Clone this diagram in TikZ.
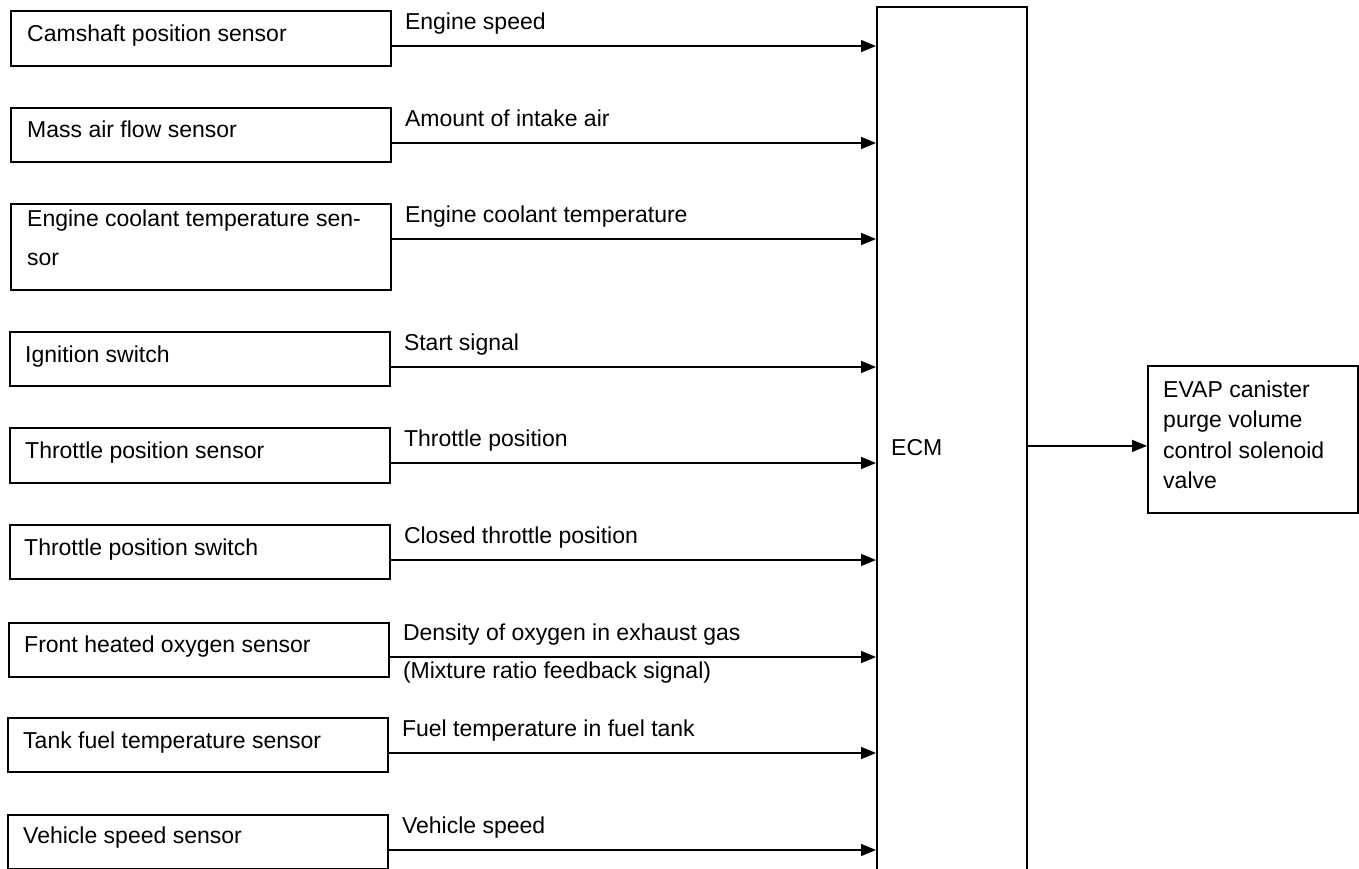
\documentclass[tikz,border=0pt]{standalone}
\usepackage{fontspec}
\setmainfont{Liberation Sans}
\usetikzlibrary{arrows.meta,calc}
\begin{document}
\begin{tikzpicture}[x=1pt,y=-1pt,
  box/.style={draw,line width=1.8pt,inner sep=0pt,anchor=north west,minimum width=380pt},
  txt/.style={anchor=base west,inner sep=0pt,font=\fontsize{23}{28}\selectfont},
  arr/.style={line width=1.5pt,-{Triangle[length=15pt,width=12pt]}}]
\useasboundingbox (0,0) rectangle (1359,869);
\clip (0,0) rectangle (1359,869);
% ECM (open at the bottom of the picture)
\node[draw,line width=1.8pt,inner sep=0pt,anchor=north west,minimum width=150pt,minimum height=950pt] (ecm) at (876,6) {};
\node[txt] (ecmt) at (891,455) {ECM};
% output box
\node[draw,line width=1.8pt,inner sep=0pt,anchor=north west,minimum width=210pt,minimum height=147pt] (evap) at (1147,365) {};
\node[txt] (evapt) at (1163,397) {\vtop{\baselineskip=30.5pt\hbox{EVAP canister}\hbox{purge volume}\hbox{control solenoid}\hbox{valve}}};
\draw[arr] ($(evap.west)+(0,6.5)$) coordinate (r) (r -| ecm.east) -- (r);
% input boxes
\node[box,minimum height=55pt] (b1) at (10,10) {};
\node[box,minimum height=54pt] (b2) at (10,107) {};
\node[box,minimum height=86pt] (b3) at (10,203) {};
\node[box,minimum height=54pt] (b4) at (9,331) {};
\node[box,minimum height=55pt] (b5) at (9,427) {};
\node[box,minimum height=54pt] (b6) at (9,524) {};
\node[box,minimum height=54pt] (b7) at (8,622) {};
\node[box,minimum height=54pt] (b8) at (7,717) {};
\node[box,minimum height=54pt] (b9) at (7,814) {};
\node[txt] (t1) at (27,42) {Camshaft position sensor};
\node[txt] (t2) at (27,138) {Mass air flow sensor};
\node[txt] (t3) at (27,226) {\vtop{\baselineskip=39pt\hbox{Engine coolant temperature sen-}\hbox{sor}}};
\node[txt] (t4) at (25,362) {Ignition switch};
\node[txt] (t5) at (25,458) {Throttle position sensor};
\node[txt] (t6) at (24,555) {Throttle position switch};
\node[txt] (t7) at (24,652) {Front heated oxygen sensor};
\node[txt] (t8) at (23,748) {Tank fuel temperature sensor};
\node[txt] (t9) at (23,843) {Vehicle speed sensor};
% signals
\foreach \i/\lab in {1/Engine speed,2/Amount of intake air,3/Engine coolant temperature,4/Start signal,5/Throttle position,6/Closed throttle position,8/Fuel temperature in fuel tank,9/Vehicle speed}{
  \draw[arr] ($(b\i.north east)+(0,36)$) coordinate (s\i) -- (s\i -| ecm.west);
  \node[txt] (l\i) at ($(s\i)+(13,-16.5)$) {\lab};
}
\draw[arr] ($(b7.north east)+(0,35)$) coordinate (s7) -- (s7 -| ecm.west);
\node[txt] (l7) at ($(s7)+(13,-16.5)$) {\vtop{\baselineskip=38pt\hbox{Density of oxygen in exhaust gas}\hbox{(Mixture ratio feedback signal)}}};
\end{tikzpicture}
\end{document}
